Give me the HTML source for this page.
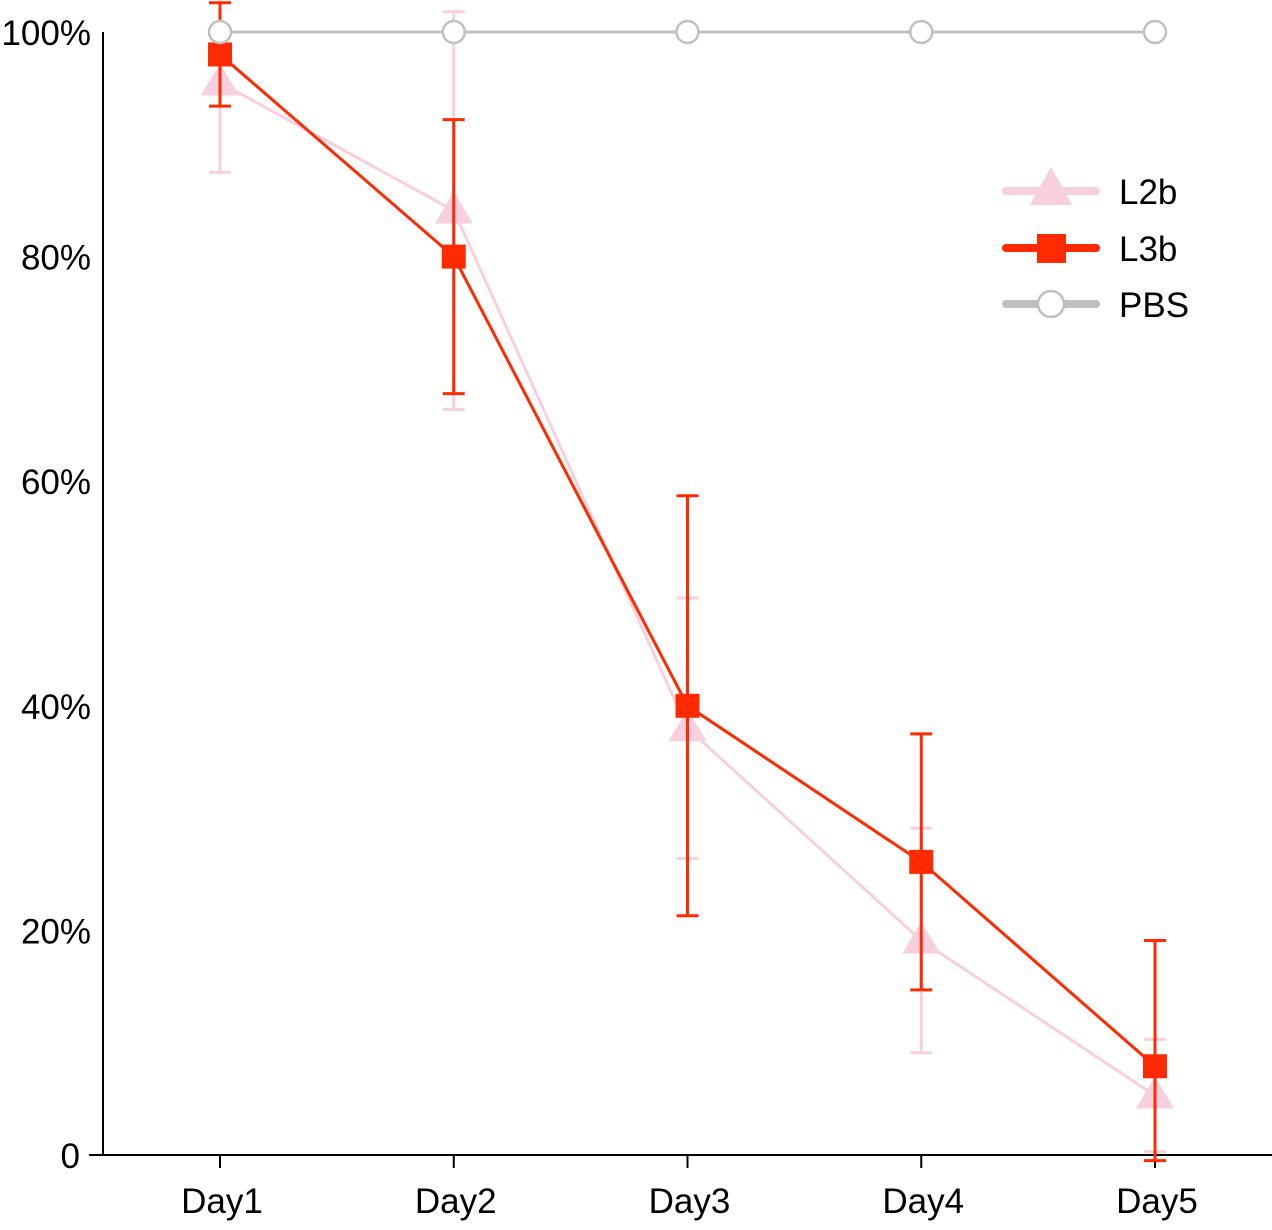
<!DOCTYPE html>
<html><head><meta charset="utf-8"><style>
html,body{margin:0;padding:0;background:#fff;}
svg text{font-family:"Liberation Sans",Arial,sans-serif;}
</style></head><body>
<svg id="chart" width="1272" height="1225" viewBox="0 0 1272 1225" xmlns="http://www.w3.org/2000/svg">
<g id="axes"></g>
<g id="series"></g>
<g id="legend"></g>
</svg>
<script>
const categories = ["Day1","Day2","Day3","Day4","Day5"];
const yTicks = [0,20,40,60,80,100];
const yTickLabels = ["0","20%","40%","60%","80%","100%"];
const l2bValues = [95.5,84.1,38,19.1,5.3];
const l2bErr = [8,17.7,11.6,10,5];
const l3bValues = [98,80,40,26.1,7.9];
const l3bErr = [4.6,12.2,18.7,11.4,11.2];
const pbsValues = [100,100,100,100,100];

const NS="http://www.w3.org/2000/svg";
function xPos(i){return 220+i*233.75;}
function yPos(v){return 1155-v*11.23;}
function mk(tag,attrs,parent){const e=document.createElementNS(NS,tag);for(const k in attrs)e.setAttribute(k,attrs[k]);parent.appendChild(e);return e;}
const axes=document.getElementById('axes'),series=document.getElementById('series'),legend=document.getElementById('legend');

let yl=mk('line',{x1:103,y1:32,x2:103,y2:1156,stroke:'#000','stroke-width':2},axes);


let xl=mk('line',{x1:89,y1:1155,x2:1272,y2:1155,stroke:'#000','stroke-width':2},axes);


yTicks.forEach((t,i)=>{
  const y=yPos(t);
  let tx=mk('text',{x:(t===0?80:91),y:y+13,'text-anchor':'end','font-size':35,fill:'#000'},axes);
  tx.textContent=yTickLabels[i];
  
  
});
categories.forEach((c,i)=>{
  const x=xPos(i);
  let tk=mk('line',{x1:x,y1:1155,x2:x,y2:1168,stroke:'#000','stroke-width':2},axes);
  
  
  let tx=mk('text',{x:x+2,y:1213,'text-anchor':'middle','font-size':35,fill:'#000'},axes);
  tx.textContent=c;
  
  
});

function drawErr(vals,errs,color,name){
  vals.forEach((v,i)=>{
    const x=xPos(i),y1=yPos(v+errs[i]),y2=yPos(Math.max(v-errs[i],-0.5));
    let g=mk('g',{},series);
    
    
    mk('line',{x1:x,y1:y1,x2:x,y2:y2,stroke:color,'stroke-width':3},g);
    mk('line',{x1:x-11,y1:y1,x2:x+11,y2:y1,stroke:color,'stroke-width':3},g);
    mk('line',{x1:x-11,y1:y2,x2:x+11,y2:y2,stroke:color,'stroke-width':3},g);
  });
}
function drawLine(vals,color,w,name){
  let p=mk('polyline',{points:vals.map((v,i)=>xPos(i)+','+yPos(v)).join(' '),fill:'none',stroke:color,'stroke-width':w},series);
  
  
}
function tri(x,y,parent){return mk('polygon',{points:`${x},${y-19} ${x-19},${y+13} ${x+19},${y+13}`,fill:'#f8cfdc'},parent);}
function sq(x,y,parent){return mk('rect',{x:x-12,y:y-12,width:24,height:24,fill:'#ff2a00'},parent);}
function circ(x,y,parent,r){return mk('circle',{cx:x,cy:y,r:r||11,fill:'#fff',stroke:'#c0c0c0','stroke-width':2.5},parent);}

drawErr(l2bValues,l2bErr,'#f8cfdc','l2b');
drawLine(l2bValues,'#f8cfdc',3,'l2b');
l2bValues.forEach((v,i)=>{let m=tri(xPos(i),yPos(v),series);
  
  });
drawErr(l3bValues,l3bErr,'#ff2a00','l3b');
drawLine(l3bValues,'#ff2a00',3,'l3b');
l3bValues.forEach((v,i)=>{let m=sq(xPos(i),yPos(v),series);
  
  });
drawLine(pbsValues,'#c0c0c0',3,'pbs');
pbsValues.forEach((v,i)=>{let m=circ(xPos(i),yPos(v),series);
  
  });

const legItems=[["L2b",'#f8cfdc',191,tri],["L3b",'#ff2a00',248,sq],["PBS",'#c0c0c0',304,circ]];
legItems.forEach(([lab,col,y,fn])=>{
  let g=mk('g',{},legend);
  
  
  mk('line',{x1:1006,y1:y,x2:1096,y2:y,stroke:col,'stroke-width':8,'stroke-linecap':'round'},g);
  if(fn===circ) circ(1051,y,g,13); else if(fn===sq) mk('rect',{x:1037,y:y-14,width:29,height:29,fill:col},g); else mk('polygon',{points:`1051,${y-24} 1030,${y+14} 1072,${y+14}`,fill:col},g);
  let t=mk('text',{x:1119,y:y+13,'font-size':35,fill:'#000'},g);
  t.textContent=lab;
});
</script>
</body></html>
